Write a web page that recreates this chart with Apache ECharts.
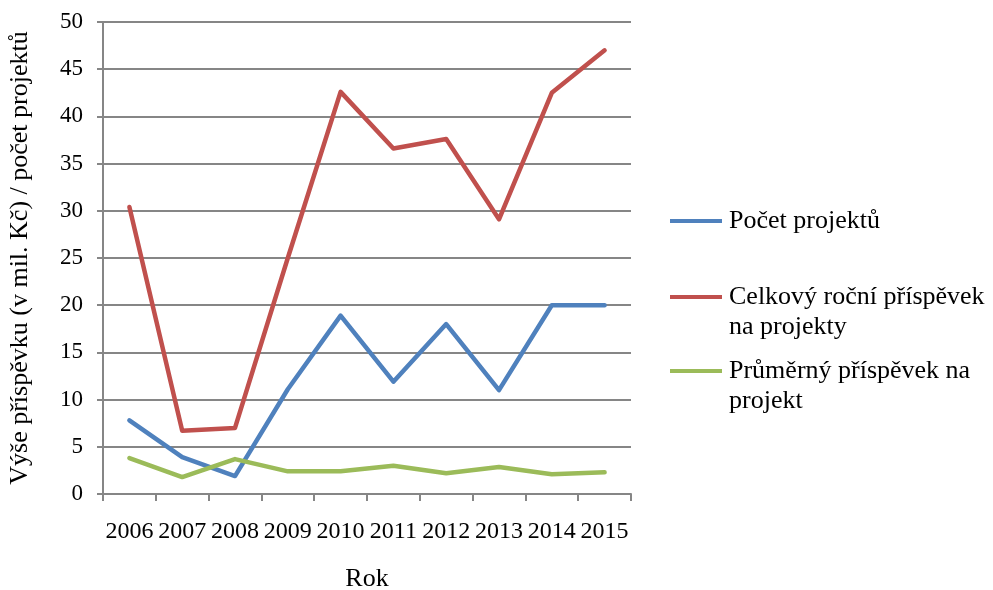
<!DOCTYPE html>
<html>
<head>
<meta charset="utf-8">
<script src="https://cdn.jsdelivr.net/npm/echarts@6/dist/echarts.min.js"></script>
<style>
  html, body { margin: 0; padding: 0; background: #fff; }
  #chart { width: 993px; height: 590px; }
</style>
</head>
<body>
<div id="chart"></div>
<script>
// roky na ose x
const roky = ['2006', '2007', '2008', '2009', '2010', '2011', '2012', '2013', '2014', '2015'];

// hodnoty
const pocetProjektu = [7.8, 3.9, 1.9, 11.1, 18.9, 11.9, 18.0, 11.0, 20.0, 20.0];
const celkovyPrispevek = [30.4, 6.7, 7.0, 25.0, 42.6, 36.6, 37.6, 29.1, 42.5, 47.0];
const prumernyPrispevek = [3.8, 1.8, 3.7, 2.4, 2.4, 3.0, 2.2, 2.85, 2.1, 2.3];

const nazvy = ['Počet projektů', 'Celkový roční příspěvek na projekty', 'Průměrný příspěvek na projekt'];
const popisky = ['Počet projektů', 'Celkový roční příspěvek\nna projekty', 'Průměrný příspěvek na\nprojekt'];
const barvy = ['#4F81BD', '#C0504D', '#9BBB59'];

const font = '"Liberation Serif", "Times New Roman", serif';
const seda = '#868686';

const chart = echarts.init(document.getElementById('chart'));

// ikona legendy: čára nahoře, aby seděla k prvnímu řádku textu
const ikonaNahore = 'path://M0,0L52,0L52,4L0,4Z M0,34L0.01,34L0,34.01Z';

const legenda = (i, top, icon, itemHeight) => ({
  data: [{ name: nazvy[i], icon: icon }],
  left: 670,
  top: top,
  padding: 0,
  itemWidth: 52,
  itemHeight: itemHeight,
  itemGap: 0,
  selectedMode: false,
  symbolKeepAspect: false,
  itemStyle: { borderWidth: 0 },
  lineStyle: { width: 0 },
  formatter: () => popisky[i],
  textStyle: { fontFamily: font, fontSize: 26, lineHeight: 30, color: '#000', padding: [0, 0, 0, 2] }
});

chart.setOption({
  backgroundColor: '#fff',
  animation: false,
  color: barvy,
  grid: { left: 103, right: 362, top: 22, bottom: 96, outerBoundsMode: 'none' },
  legend: [
    legenda(0, 206, 'rect', 4),
    legenda(1, 282, ikonaNahore, 34),
    legenda(2, 356, ikonaNahore, 34)
  ],
  xAxis: {
    type: 'category',
    data: roky,
    boundaryGap: true,
    name: 'Rok',
    nameLocation: 'middle',
    nameGap: 72,
    nameTextStyle: { fontFamily: font, fontSize: 26, color: '#000' },
    axisLine: { lineStyle: { color: seda, width: 2 } },
    axisTick: { show: true, interval: 0, length: 7, lineStyle: { color: seda, width: 2 } },
    axisLabel: { fontFamily: font, fontSize: 24, color: '#000', margin: 26, interval: 0 }
  },
  yAxis: {
    type: 'value',
    min: 0,
    max: 50,
    interval: 5,
    name: 'Výše příspěvku (v mil. Kč) / počet projektů',
    nameLocation: 'middle',
    nameGap: 70,
    nameTextStyle: { fontFamily: font, fontSize: 26, color: '#000' },
    axisLine: { show: true, lineStyle: { color: seda, width: 2 } },
    axisTick: { show: true, length: 6, lineStyle: { color: seda, width: 2 } },
    axisLabel: { fontFamily: font, fontSize: 23, color: '#000', margin: 20 },
    splitLine: { lineStyle: { color: seda, width: 2 } }
  },
  series: [
    { name: nazvy[0], type: 'line', data: pocetProjektu, showSymbol: false, lineStyle: { width: 4.5, cap: 'round', join: 'round' } },
    { name: nazvy[1], type: 'line', data: celkovyPrispevek, showSymbol: false, lineStyle: { width: 4.5, cap: 'round', join: 'round' } },
    { name: nazvy[2], type: 'line', data: prumernyPrispevek, showSymbol: false, lineStyle: { width: 4.5, cap: 'round', join: 'round' } }
  ]
});
</script>
</body>
</html>
